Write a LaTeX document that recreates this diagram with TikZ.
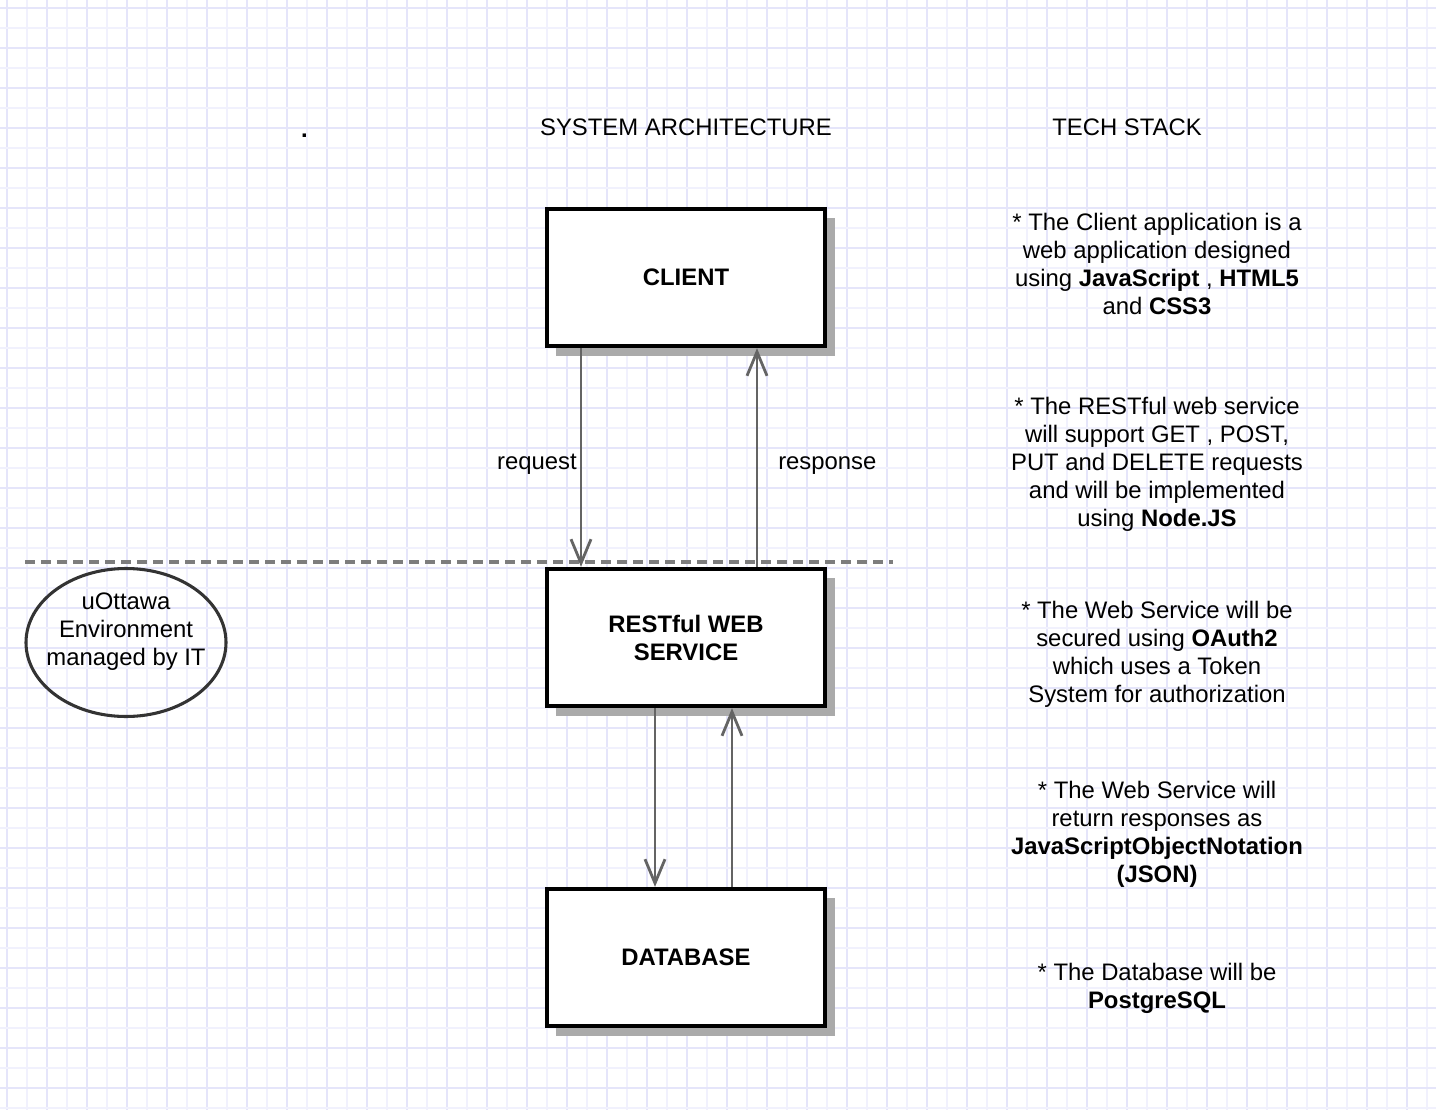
\documentclass[tikz,border=0pt]{standalone}
\usepackage{fontspec}
\setmainfont{Liberation Sans}
\usetikzlibrary{shapes.geometric,arrows.meta,shadows,calc}
\definecolor{gridA}{RGB}{229,229,250}
\definecolor{gridB}{RGB}{241,241,253}
\definecolor{arr}{RGB}{100,100,100}
\definecolor{shad}{RGB}{170,170,170}
\definecolor{dashc}{RGB}{125,125,125}
\newcommand\txtsz{\fontsize{17.9pt}{21pt}\selectfont}
\begin{document}
\begin{tikzpicture}[x=0.75pt,y=-0.75pt,
  every node/.style={font=\txtsz},
  box/.style={draw=black, line width=3pt, fill=white, minimum width=209pt, minimum height=103pt,
    font=\txtsz\bfseries, align=center,
    drop shadow={shadow xshift=7pt, shadow yshift=-7pt, fill=shad, opacity=1}},
  conn/.style={draw=arr, line width=2.1pt, -{Straight Barb[length=18pt,width=15pt]}},
  tech/.style={align=center, inner sep=0pt},
  dashline/.style={draw=dashc, line width=2.5pt, dash pattern=on 7.5pt off 4.5pt}
]
\fill[white] (0,0) rectangle (1436,1110);
\useasboundingbox (0,0) rectangle (1436,1110);
% grid
\foreach \i in {0,...,35} {
  \draw[gridA, line width=1.5pt] ({6.7+40*\i},0) -- ({6.7+40*\i},1110);
  \draw[gridB, line width=1.5pt] ({26.7+40*\i},0) -- ({26.7+40*\i},1110);
}
\foreach \i in {0,...,27} {
  \draw[gridA, line width=1.5pt] (0,{8.3+40*\i}) -- (1436,{8.3+40*\i});
  \draw[gridB, line width=1.5pt] (0,{28.3+40*\i}) -- (1436,{28.3+40*\i});
}

% headings
\node[font=\txtsz\bfseries, anchor=base] (dot) at (304.5,137) {.};
\node (hsys) at (686,127) {SYSTEM ARCHITECTURE};
\node (htech) at (1127,127) {TECH STACK};

% dashed separator
\coordinate (dl) at (25,562);
\coordinate (dr) at (893,562);
\draw[dashline] (dl) -- (dr);

% boxes
\node[box] (client) at (686,277.5) {CLIENT};
\node[box] (rest) at (686,637.5) {RESTful WEB\\SERVICE};
\node[box] (db) at (686,957.5) {DATABASE};

% connectors
\draw[conn] ($(client.south)+(-105,0)$) -- ($(rest.north)+(-105,0)$);
\draw[conn] ($(rest.north)+(71,0)$) -- ($(client.south)+(71,0)$);
\draw[conn] ($(rest.south)+(-31,0)$) -- ($(db.north)+(-31,0)$);
\draw[conn] ($(db.north)+(46,0)$) -- ($(rest.south)+(46,0)$);

\node[anchor=base east, inner sep=0pt] (lreq) at (577,469) {request};
\node[anchor=base west, inner sep=0pt] (lresp) at (778,469) {response};

% environment ellipse
\node[ellipse, draw=black!80, line width=2.3pt, minimum width=150pt, minimum height=111pt,
  inner sep=0pt] (env) at (126,642.5) {};
\node[align=center, inner sep=0pt] (envtxt) at ($(env.center)+(0,-11)$) {uOttawa\\Environment\\managed by IT};

% tech stack notes
\node[tech] (t1) at (1157,264) {* The Client application is a\\web application designed\\using \textbf{JavaScript} , \textbf{HTML5}\\and \textbf{CSS3}};
\node[tech] (t2) at (1157,464) {* The RESTful web service\\will support GET , POST,\\PUT and DELETE requests\\and will be implemented\\using \textbf{Node.JS}};
\node[tech] (t3) at (1157,654.5) {* The Web Service will be\\secured using \textbf{OAuth2}\\which uses a Token\\System for authorization};
\node[tech] (t4) at (1157,834.5) {* The Web Service will\\return responses as\\\textbf{JavaScriptObjectNotation}\\\textbf{(JSON)}};
\node[tech] (t5) at (1157,988) {* The Database will be\\\textbf{PostgreSQL}};
\end{tikzpicture}
\end{document}
